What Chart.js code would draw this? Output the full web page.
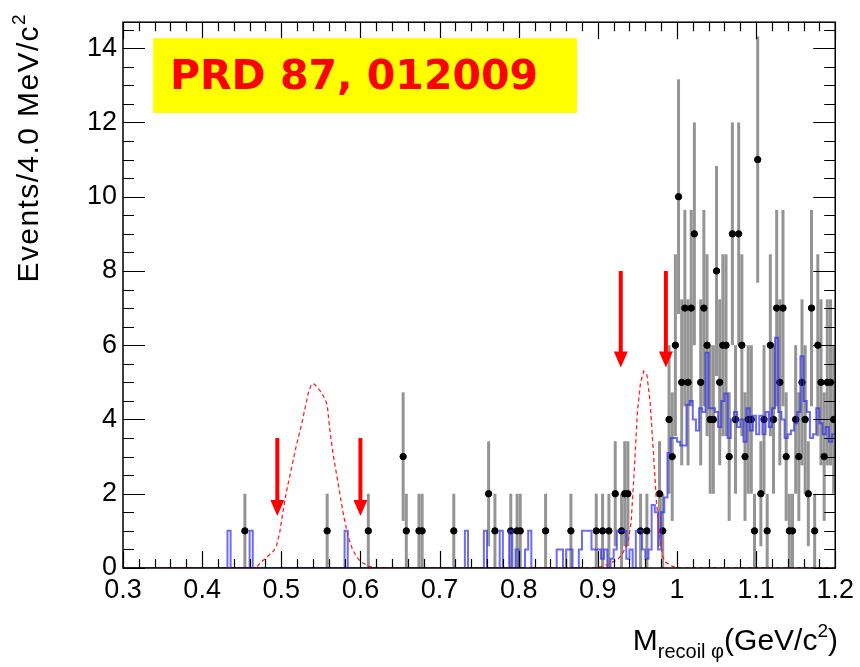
<!DOCTYPE html>
<html lang="en">
<head>
<meta charset="UTF-8">
<title>M recoil phi</title>
<script src="https://cdn.jsdelivr.net/npm/chart.js@4/dist/chart.umd.min.js"></script>
<style>
    body { margin: 0; background: #fff; }
    #wrap { position: relative; width: 860px; height: 667px; overflow: hidden; }
    #c { position: absolute; left: 0; top: 0; }
    .lbl { position: absolute; font-family: "Liberation Sans", Arial, sans-serif; color: #000; white-space: nowrap; }
    .lbl sub { font-size: 20px; vertical-align: -8px; line-height: 0; }
    .lbl sup { font-size: 19px; vertical-align: 13px; line-height: 0; }
    #tag { position: absolute; left: 153px; top: 38px; width: 424px; height: 75px; background: #ffff00;
           color: #ff0000; font-family: "DejaVu Sans", sans-serif; font-weight: bold; font-size: 41px;
           line-height: 75px; padding-left: 17px; box-sizing: border-box; white-space: nowrap; }
    #ytitle { left: 13px; top: 293px; width: 280px; text-align: right; font-size: 30px; line-height: 30px;
              letter-spacing: 1.4px; transform-origin: 0 0; transform: rotate(-90deg); }
    #xtitle { right: 22px; top: 625px; font-size: 30px; line-height: 30px; }
</style>
</head>
<body>
<div id="wrap">
    <canvas id="c" width="860" height="667"></canvas>
    <div id="tag">PRD 87, 012009</div>
    <div id="ytitle" class="lbl">Events/4.0 MeV/c<sup>2</sup></div>
    <div id="xtitle" class="lbl">M<sub>recoil &#966;</sub>(GeV/c<sup>2</sup>)</div>
</div>
<script>
// binning: 225 bins of 4 MeV from 0.3 to 1.2 GeV/c^2
const xMin = 0.3, xMax = 1.2, binWidth = 0.004;
const xTickValues = [0.3, 0.4, 0.5, 0.6, 0.7, 0.8, 0.9, 1.0, 1.1, 1.2];
const yTickValues = [0, 2, 4, 6, 8, 10, 12, 14];

// observed events (bin centre, entries); errors are sqrt(N)
const dataMass = [0.454, 0.558, 0.610, 0.654, 0.658, 0.674, 0.678, 0.718, 0.762, 0.770,
    0.790, 0.798, 0.802, 0.834, 0.866, 0.898, 0.906, 0.914, 0.922, 0.930,
    0.934, 0.938, 0.954, 0.962, 0.978, 0.982,
    0.990, 0.994, 0.998, 1.002, 1.006, 1.010, 1.014, 1.018, 1.022, 1.030,
    1.034, 1.038, 1.042, 1.046, 1.050, 1.054, 1.058, 1.062, 1.066, 1.070,
    1.074, 1.078, 1.082, 1.086, 1.090, 1.094, 1.098, 1.102, 1.106, 1.110,
    1.114, 1.118, 1.122, 1.126, 1.130, 1.134, 1.138, 1.142, 1.146, 1.150,
    1.154, 1.158, 1.162, 1.166, 1.170, 1.174, 1.178, 1.182, 1.186, 1.190,
    1.194, 1.198];
const dataCounts = [1, 1, 1, 3, 1, 1, 1, 1, 2, 1,
    1, 1, 1, 1, 1, 1, 1, 1, 2, 1,
    2, 2, 1, 1, 2, 1,
    4, 3, 6, 10, 5, 7, 5, 7, 9, 5,
    7, 6, 4, 4, 8, 5, 6, 6, 3, 9,
    4, 9, 6, 3, 4, 4, 1, 11, 2, 4,
    1, 6, 4, 7, 5, 7, 3, 1, 1, 4,
    3, 5, 4, 2, 7, 1, 6, 5, 3, 5,
    5, 4];

// background MC (blue histogram), one line = 0.1 GeV = 25 bins
const bkgValues = [
    0,0,0,0,0, 0,0,0,0,0, 0,0,0,0,0, 0,0,0,0,0, 0,0,0,0,0,
    0,0,0,0,0, 0,0,0,1,0, 0,0,0,0,0, 1,0,0,0,0, 0,0,0,0,0,
    0,0,0,0,0, 0,0,0,0,0, 0,0,0,0,0, 0,0,0,0,0, 1,0,0,0,0,
    0,0,0,0,0, 0,0,0,0,0, 0,0,0,0,0, 0,0,0,0,0, 0,0,0,0,0,
    0,0,0,0,0, 0,0,0,1,0, 0,0,0,0,1, 0,0,0,0,1, 0,0,1,0,0.5,
    0,0,0.5,1,0, 0,0,0,0,0, 0,0,0.5,0.5,0, 0.5,0.5,0,0,0.5, 1,1,1,0.5,0.5,
    0.5,0.25,0.5,0,0.25, 0.5,1,1,1,0.25, 0.5,0,1,1,0.5, 0.25,0.5,1.7,1.5,0.5, 1.5,1.9,3.1,3.5,3.5,
    3.4,3.3,3.3,4.4,4.5, 4.0,3.7,4.3,4.2,5.8, 4.3,4.3,4.2,3.8,4.5, 4.7,3.5,4.0,4.2,3.8, 4.0,3.4,4.3,3.7,4.1,
    3.6,4.1,3.6,4.2,3.8, 4.3,6.2,4.2,4.0,3.5, 3.6,3.7,3.9,4.2,5.7, 4.5,4.2,3.5,3.6,4.3, 3.9,3.6,3.8,3.4,3.6
];

// signal MC (red dashed), same binning
const sigValues = [
    0,0,0,0,0, 0,0,0,0,0, 0,0,0,0,0, 0,0,0,0,0, 0,0,0,0,0,
    0,0,0,0,0, 0,0,0,0,0, 0,0,0,0,0, 0,0,0.05,0.15,0.22, 0.3,0.38,0.45,0.6,0.95,
    1.5,2.0,2.4,2.8,3.2, 3.55,3.9,4.3,4.7,4.95, 4.95,4.85,4.75,4.6,4.4, 3.6,3.0,2.5,2.0,1.5, 1.1,0.75,0.5,0.35,0.22,
    0.15,0.1,0.05,0.03,0.02, 0,0,0,0,0, 0,0,0,0,0, 0,0,0,0,0, 0,0,0,0,0,
    0,0,0,0,0, 0,0,0,0,0, 0,0,0,0,0, 0,0,0,0,0, 0,0,0,0,0,
    0,0,0,0,0, 0,0,0,0,0, 0,0,0,0,0, 0,0,0,0,0, 0,0,0,0,0,
    0.02,0.05,0.08,0.1,0.15, 0.2,0.25,0.35,0.5,0.7, 1.2,2.6,4.2,5.0,5.3, 5.2,4.5,3.2,1.8,0.9, 0.3,0.15,0.1,0.05,0.02,
    0,0,0,0,0, 0,0,0,0,0, 0,0,0,0,0, 0,0,0,0,0, 0,0,0,0,0,
    0,0,0,0,0, 0,0,0,0,0, 0,0,0,0,0, 0,0,0,0,0, 0,0,0,0,0
];

// selection window arrows
const arrowMass = [0.495, 0.600, 0.929, 0.986];
const arrowFrom = [3.5, 3.5, 8.0, 8.0];
const arrowTo = [1.4, 1.4, 5.4, 5.4];

const edge = i => +(xMin + i * binWidth).toFixed(3);
const bkgPoints = bkgValues.map((v, i) => ({ x: edge(i), y: v }));
bkgPoints.push({ x: xMax, y: bkgValues[bkgValues.length - 1] });
const sigPoints = sigValues.map((v, i) => ({ x: +(edge(i) + binWidth / 2).toFixed(3), y: v }));
const dataPoints = dataMass.map((m, i) => ({ x: m, y: dataCounts[i] }));

const font = { family: '"Liberation Sans", Arial, sans-serif', size: 27 };

// error bars, arrows, frame and ROOT style inward ticks
const rootStyle = {
    id: 'rootStyle',
    beforeDatasetsDraw(chart) {
        const { ctx, scales: { x, y } } = chart;
        ctx.save();
        ctx.strokeStyle = 'rgba(0,0,0,0.42)';
        ctx.lineWidth = 3;
        dataMass.forEach((m, i) => {
            const n = dataCounts[i], e = Math.sqrt(n);
            const px = x.getPixelForValue(m);
            ctx.beginPath();
            ctx.moveTo(px, y.getPixelForValue(n - e));
            ctx.lineTo(px, y.getPixelForValue(n + e));
            ctx.stroke();
        });
        ctx.restore();
    },
    afterDatasetsDraw(chart) {
        const { ctx, scales: { x, y } } = chart;
        ctx.save();
        ctx.strokeStyle = '#ff0000';
        ctx.fillStyle = '#ff0000';
        ctx.lineWidth = 4;
        arrowMass.forEach((m, i) => {
            const px = x.getPixelForValue(m);
            const top = y.getPixelForValue(arrowFrom[i]);
            const tip = y.getPixelForValue(arrowTo[i]);
            ctx.beginPath();
            ctx.moveTo(px, top);
            ctx.lineTo(px, tip - 12);
            ctx.stroke();
            ctx.beginPath();
            ctx.moveTo(px - 7, tip - 16);
            ctx.lineTo(px + 7, tip - 16);
            ctx.lineTo(px, tip);
            ctx.closePath();
            ctx.fill();
        });
        ctx.restore();
    },
    afterDraw(chart) {
        const { ctx, chartArea: a, scales: { x, y } } = chart;
        ctx.save();
        ctx.strokeStyle = '#000';
        ctx.lineWidth = 1.5;
        ctx.strokeRect(a.left, a.top, a.right - a.left, a.bottom - a.top);
        ctx.lineWidth = 1.2;
        ctx.beginPath();
        for (let v = 0; v <= 14.7 + 1e-9; v += 0.5) {
            const py = Math.round(y.getPixelForValue(v)) + 0.5;
            const len = Math.abs(v % 2) < 1e-9 ? 22 : 11;
            ctx.moveTo(a.left, py); ctx.lineTo(a.left + len, py);
            ctx.moveTo(a.right, py); ctx.lineTo(a.right - len, py);
        }
        for (let i = 0; i <= 45; i++) {
            const v = xMin + i * 0.02;
            const px = Math.round(x.getPixelForValue(v)) + 0.5;
            const len = i % 5 === 0 ? 17 : 9;
            ctx.moveTo(px, a.bottom); ctx.lineTo(px, a.bottom - len);
            ctx.moveTo(px, a.top); ctx.lineTo(px, a.top + len);
        }
        ctx.stroke();
        ctx.restore();
    }
};

new Chart(document.getElementById('c'), {
    type: 'scatter',
    data: {
        datasets: [
            {
                type: 'scatter',
                data: dataPoints,
                backgroundColor: '#000',
                borderColor: '#000',
                pointRadius: 3.2,
                order: 3
            },
            {
                type: 'line',
                data: bkgPoints,
                borderColor: 'rgba(45,45,240,0.7)',
                borderWidth: 2,
                stepped: 'before',
                pointRadius: 0,
                fill: false,
                order: 2
            },
            {
                type: 'line',
                data: sigPoints,
                borderColor: '#ff2020',
                borderWidth: 1.3,
                borderDash: [4, 3],
                pointRadius: 0,
                tension: 0,
                fill: false,
                order: 1
            }
        ]
    },
    options: {
        responsive: false,
        animation: false,
        devicePixelRatio: 1,
        layout: { padding: { top: 22, right: 22, left: 0, bottom: 0 } },
        plugins: { legend: { display: false }, tooltip: { enabled: false } },
        scales: {
            x: {
                type: 'linear',
                min: xMin,
                max: xMax,
                grid: { display: false, drawTicks: false },
                border: { display: false },
                ticks: {
                    font, color: '#000', padding: 6, autoSkip: false, maxRotation: 0,
                    callback: v => String(+(+v).toFixed(1))
                },
                afterBuildTicks: s => { s.ticks = xTickValues.map(v => ({ value: v })); },
                afterFit: s => { s.height = 99; }
            },
            y: {
                type: 'linear',
                min: 0,
                max: 14.7,
                grid: { display: false, drawTicks: false },
                border: { display: false },
                ticks: { font, color: '#000', padding: 6, callback: v => String(v) },
                afterBuildTicks: s => { s.ticks = yTickValues.map(v => ({ value: v })); },
                afterFit: s => { s.width = 123; }
            }
        }
    },
    plugins: [rootStyle]
});
</script>
</body>
</html>
